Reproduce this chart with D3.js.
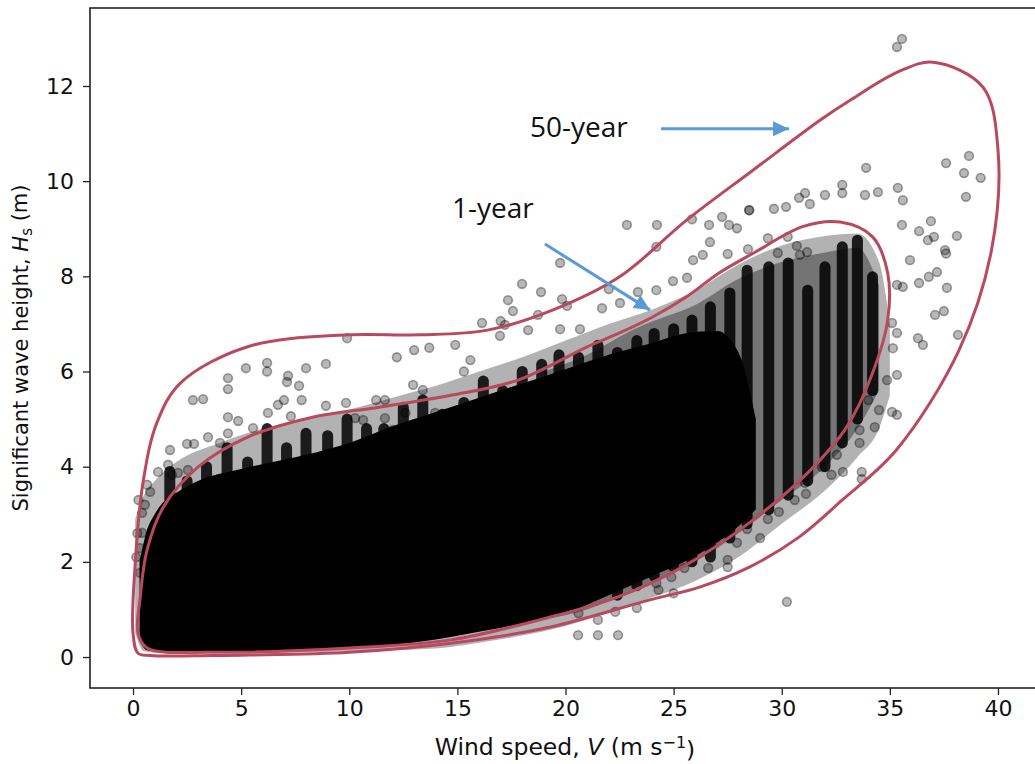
<!DOCTYPE html>
<html>
<head>
<meta charset="utf-8">
<script src="https://cdn.jsdelivr.net/npm/d3@7"></script>
<style>
  body { margin: 0; background: #fff; }
  svg text { font-family: "DejaVu Sans", sans-serif; fill: #111; }
</style>
</head>
<body>
<svg width="1035" height="764"></svg>
<script>

// Tick waarden van de assen
var xTicks = [0, 5, 10, 15, 20, 25, 30, 35, 40];
var yTicks = [0, 2, 4, 6, 8, 10, 12];

// 50-jaar contour (V, Hs)
var c50V = [0.23, 0.8, 3.7, 5.4, 10.0, 14.7, 19.3, 23.9, 26.2, 28.5, 30.8, 32.8, 35.3, 38.2, 39.7, 40.0, 39.3, 37.0, 35.4, 33.2, 31.8, 28.7, 25.6, 22.5, 19.4, 16.4, 13.3, 9.9, 5.3, 2.2, 1.1, 0.46, 0.09, 0.0];
var c50H = [0.08, 0.03, 0.03, 0.04, 0.1, 0.29, 0.63, 1.2, 1.47, 1.89, 2.52, 3.3, 4.35, 6.45, 8.55, 10.66, 11.98, 12.5, 12.3, 11.71, 11.29, 10.24, 9.18, 7.99, 7.29, 6.87, 6.77, 6.77, 6.52, 5.76, 4.92, 3.66, 1.89, 0.5];

// 1-jaar contour (V, Hs)
var c1V = [0.65, 3.7, 10.0, 14.7, 19.3, 22.4, 25.4, 28.5, 31.2, 33.0, 34.2, 34.9, 34.9, 34.2, 32.7, 31.0, 28.7, 27.1, 25.6, 24.05, 22.5, 21.0, 17.8, 14.7, 11.4, 8.3, 5.3, 3.0, 1.4, 0.65, 0.32, 0.23];
var c1H = [0.19, 0.1, 0.19, 0.36, 0.84, 1.26, 1.89, 2.82, 3.87, 4.83, 5.97, 7.08, 8.07, 8.83, 9.14, 9.05, 8.49, 8.07, 7.57, 7.15, 6.81, 6.52, 5.82, 5.5, 5.25, 5.04, 4.62, 3.99, 3.15, 2.25, 1.2, 0.5];

// Dichte kern van de puntenwolk (volledig zwart)
var coreV      = [0.3, 0.6, 1.0, 1.5, 2, 3, 5, 8, 10, 12, 14, 16, 18, 20, 22, 24, 25.5, 27, 28.0, 28.8];
var coreTop    = [2.0, 2.6, 3.0, 3.3, 3.45, 3.7, 3.95, 4.25, 4.5, 4.85, 5.15, 5.45, 5.75, 6.05, 6.35, 6.6, 6.8, 6.85, 6.4, 5.0];
var coreBottom = [0.35, 0.15, 0.12, 0.12, 0.12, 0.12, 0.12, 0.14, 0.19, 0.26, 0.37, 0.53, 0.7, 0.92, 1.3, 1.7, 2.0, 2.4, 2.75, 3.1];

// Grijze rand rond de kern (overlappende punten)
var haloV      = [0.1, 0.5, 1, 2, 4, 6, 8, 10, 12, 14, 16, 18, 20, 22, 24, 26, 28, 30, 32, 33.5, 34.5, 35];
var haloTop    = [2.9, 3.4, 3.7, 4.1, 4.5, 4.8, 5.0, 5.2, 5.45, 5.7, 6.0, 6.3, 6.65, 7.0, 7.3, 7.7, 8.25, 8.65, 8.85, 8.9, 8.3, 7.0];
var haloBottom = [0.5, 0.12, 0.09, 0.09, 0.09, 0.09, 0.1, 0.12, 0.15, 0.18, 0.3, 0.45, 0.65, 0.95, 1.25, 1.6, 2.1, 2.8, 3.5, 4.2, 4.8, 5.5];

// Donker gebied tussen de strepen bij hoge windsnelheid
var denseV      = [19, 21, 23, 24, 26, 28, 30, 32, 33.5, 34.5];
var denseTop    = [6.0, 6.35, 6.85, 7.05, 7.4, 7.95, 8.3, 8.5, 8.6, 7.8];
var denseBottom = [0.8, 1.0, 1.4, 1.6, 2.0, 2.6, 3.3, 4.0, 4.8, 5.6];

// Verticale strepen (gestapelde punten per windsnelheid)
var colV    = [1.7, 2.5, 3.4, 4.35, 5.3, 6.2, 7.1, 8.0, 9.0, 9.9, 10.8, 11.6, 12.5, 13.4, 14.3, 15.3, 16.2, 17.1, 18.0, 18.9, 19.7, 20.6, 21.5, 22.4, 23.3, 24.1, 25.0, 25.85, 26.7, 27.6, 28.4, 29.4, 30.3, 31.2, 32.0, 32.8, 33.5, 34.2];
var colLow  = [2, 2, 2, 2, 2, 2, 2, 2, 2, 2, 2, 2, 2, 2, 2, 2, 2, 2, 2, 2, 2, 2, 2, 1.3, 1.5, 1.7, 1.9, 2.0, 2.1, 2.5, 2.8, 3.1, 3.4, 3.7, 4.0, 4.5, 5.0, 5.6];
var colHigh = [3.9, 3.7, 4.0, 4.4, 4.1, 4.8, 4.4, 4.7, 4.65, 5.0, 4.8, 4.8, 5.25, 5.4, 5.1, 5.35, 5.8, 5.6, 6.0, 6.15, 6.35, 6.3, 6.55, 6.4, 6.65, 6.8, 6.9, 7.08, 7.36, 7.65, 8.13, 8.2, 8.28, 7.71, 8.2, 8.62, 8.76, 7.99];

// Losse punten buiten de kern
var ptV = [35.56, 35.33, 33.9, 33.85, 34.45, 35.37, 37.6, 38.66, 38.43, 39.2, 38.52, 31.08, 32.0, 32.8, 32.8, 35.6, 29.64, 30.2, 28.5, 35.56,
  36.35, 36.9, 36.76, 37.04, 38.1, 37.55, 37.6, 35.93, 37.18, 36.8, 36.35, 37.64, 35.33, 35.6, 37.09, 37.5, 38.15, 36.3, 36.53, 35.1,
  35.33, 35.14, 35.33, 34.87, 35.1, 35.33, 34.3, 34.5, 34.0, 33.6, 33.6, 32.55, 32.3, 32.83, 33.7, 33.7, 31.86, 31.07, 31.12, 30.6,
  29.87, 29.36, 29.0, 28.4, 27.93, 27.5, 27.5, 26.6, 30.24, 20.58, 21.5, 22.43, 21.5, 20.6, 22.3, 23.3, 24.3, 24.9, 25.0, 24.2,
  25.5, 28.07, 28.4, 27.93, 28.4, 11.24, 11.65, 12.95, 13.4, 10.27, 10.64, 11.65, 12.0, 12.6, 13.97, 14.33, 9.9, 6.2, 6.2, 5.22,
  4.39, 4.39, 2.77, 3.24, 8.0, 8.92, 7.17, 7.12, 7.68, 6.98, 7.8, 6.7, 8.92, 9.85, 4.39, 4.39, 4.86, 5.55, 6.24, 7.3,
  3.47, 4.02, 2.5, 2.82, 1.71, 1.16, 0.65, 0.79, 1.62, 1.8, 2.08, 2.54, 0.42, 0.32, 0.42, 0.32, 22.84, 24.23, 24.2, 19.75,
  17.99, 17.34, 17.57, 18.87, 19.84, 20.07, 18.73, 16.14, 17.0, 16.97, 18.27, 19.75, 20.67, 21.69, 22.52, 22.0, 23.35, 24.2, 24.97, 25.62,
  25.85, 26.64, 27.24, 27.56, 27.93, 28.49, 30.8, 31.3, 26.68, 26.35, 25.9, 27.5, 28.44, 29.36, 29.82, 30.28, 30.7, 31.17, 30.84, 13.0,
  13.7, 14.9, 15.6, 17.2, 12.2, 15.3, 0.2, 0.25, 0.15, 0.55];
var ptH = [12.99, 12.82, 10.28, 9.71, 9.77, 9.86, 10.38, 10.53, 10.17, 10.07, 9.67, 9.75, 9.71, 9.92, 9.75, 9.6, 9.42, 9.46, 9.39, 9.08,
  8.95, 9.16, 8.76, 8.83, 8.85, 8.55, 8.48, 8.34, 8.09, 7.99, 7.86, 7.76, 7.82, 7.78, 7.19, 7.27, 6.77, 6.7, 6.56, 7.02,
  6.81, 6.49, 5.93, 5.82, 5.15, 5.09, 4.83, 5.19, 5.4, 4.77, 4.5, 4.25, 3.83, 3.89, 3.89, 3.74, 3.99, 3.66, 3.43, 3.3,
  3.05, 2.9, 2.5, 2.69, 2.4, 2.04, 1.89, 1.87, 1.16, 0.46, 0.46, 0.46, 0.78, 0.92, 0.95, 1.03, 1.41, 1.68, 1.34, 1.55,
  1.87, 3.19, 2.95, 3.93, 3.7, 5.4, 5.4, 5.72, 5.61, 5.02, 4.98, 5.02, 4.77, 5.13, 5.13, 5.02, 6.7, 6.18, 6.0, 6.07,
  5.86, 5.63, 5.4, 5.42, 6.07, 6.16, 5.91, 5.78, 5.7, 5.4, 5.4, 5.3, 5.28, 5.34, 5.04, 4.7, 4.96, 4.81, 5.13, 5.06,
  4.62, 4.5, 4.48, 4.48, 4.35, 3.89, 3.62, 3.47, 4.04, 3.83, 3.87, 3.93, 3.03, 2.29, 2.61, 1.77, 9.08, 9.08, 8.62, 8.28,
  7.84, 7.5, 7.27, 7.67, 7.52, 7.38, 7.19, 7.02, 7.06, 6.75, 6.87, 6.89, 6.89, 7.33, 7.44, 7.73, 7.67, 7.71, 7.9, 7.97,
  9.2, 9.08, 9.25, 9.08, 9.01, 9.39, 9.65, 9.52, 8.72, 8.45, 8.34, 8.47, 8.57, 8.8, 8.49, 8.83, 8.64, 8.51, 8.45, 6.45,
  6.5, 6.56, 6.24, 6.98, 6.3, 6.0, 2.6, 3.3, 2.1, 3.2];

// Annotaties: tekst en pijlen (in data coordinaten)
var labelText = ["50-year", "1-year"];
var labelV = [18.36, 14.75];
var labelH = [10.93, 9.23];
var arrowFromV = [24.42, 19.05], arrowFromH = [11.1, 8.68];
var arrowToV = [30.34, 23.91], arrowToH = [11.1, 7.29];

var svg = d3.select("svg"),
    margin = { top: 8, right: 0, bottom: 76, left: 90 },
    width = 951,
    height = 680;

var x = d3.scaleLinear().domain([-1.99, 41.99]).range([0, width]),
    y = d3.scaleLinear().domain([-0.651, 13.639]).range([height, 0]);

var g = svg.append("g")
    .attr("transform", "translate(" + margin.left + "," + margin.top + ")");

var plot = g.append("g");

// Hulpfunctie voor een gevuld gebied tussen onder- en bovengrens
function band(vs, lo, hi) {
  return d3.area()
    .x(function(i) { return x(vs[i]); })
    .y0(function(i) { return y(lo[i]); })
    .y1(function(i) { return y(hi[i]); })
    .curve(d3.curveMonotoneX)(d3.range(vs.length));
}

// grijze rand
plot.append("path")
    .attr("d", band(haloV, haloBottom, haloTop))
    .attr("fill", "#000")
    .attr("fill-opacity", 0.3);

plot.append("path")
    .attr("d", band(denseV, denseBottom, denseTop))
    .attr("fill", "#000")
    .attr("fill-opacity", 0.35);

// strepen
plot.selectAll(".col")
  .data(d3.range(colV.length))
  .enter().append("line")
    .attr("class", "col")
    .attr("x1", function(i) { return x(colV[i]); })
    .attr("x2", function(i) { return x(colV[i]); })
    .attr("y1", function(i) { return y(colLow[i]); })
    .attr("y2", function(i) { return y(colHigh[i]); })
    .attr("stroke", "#000")
    .attr("stroke-opacity", 0.85)
    .attr("stroke-width", 11)
    .attr("stroke-linecap", "round");

// kern
plot.append("path")
    .attr("d", band(coreV, coreBottom, coreTop))
    .attr("fill", "#000");

// losse punten
plot.selectAll(".dot")
  .data(d3.range(ptV.length))
  .enter().append("circle")
    .attr("class", "dot")
    .attr("cx", function(i) { return x(ptV[i]); })
    .attr("cy", function(i) { return y(ptH[i]); })
    .attr("r", 4.4)
    .attr("fill", "#000")
    .attr("fill-opacity", 0.28)
    .attr("stroke", "#000")
    .attr("stroke-opacity", 0.35)
    .attr("stroke-width", 1.6);

// contouren
var contour = d3.line()
    .x(function(d) { return x(d[0]); })
    .y(function(d) { return y(d[1]); })
    .curve(d3.curveCatmullRomClosed.alpha(0.5));

[[c50V, c50H], [c1V, c1H]].forEach(function(c) {
  g.append("path")
      .attr("d", contour(d3.zip(c[0], c[1])))
      .attr("fill", "none")
      .attr("stroke", "#b8495f")
      .attr("stroke-width", 3);
});

// assen
g.append("g")
    .attr("transform", "translate(0," + height + ")")
    .call(d3.axisBottom(x).tickValues(xTicks).tickSize(7).tickPadding(5).tickSizeOuter(0))
    .call(function(a) {
      a.select(".domain").remove();
      a.selectAll("line").attr("stroke", "#222").attr("stroke-width", 1.3);
      a.selectAll("text").style("font-size", "22px").attr("fill", "#222");
    });

g.append("g")
    .call(d3.axisLeft(y).tickValues(yTicks).tickSize(7).tickPadding(9).tickSizeOuter(0))
    .call(function(a) {
      a.select(".domain").remove();
      a.selectAll("line").attr("stroke", "#222").attr("stroke-width", 1.3);
      a.selectAll("text").style("font-size", "22px").attr("fill", "#222");
    });

// kader
g.append("rect")
    .attr("width", width)
    .attr("height", height)
    .attr("fill", "none")
    .attr("stroke", "#222")
    .attr("stroke-width", 1.6);

// as titels
var xl = svg.append("text")
    .attr("x", 565)
    .attr("y", 755)
    .attr("text-anchor", "middle")
    .style("font-size", "23.5px")
    .attr("fill", "#222");
xl.append("tspan").text("Wind speed, ");
xl.append("tspan").attr("font-style", "italic").text("V");
xl.append("tspan").text(" (m s");
xl.append("tspan").attr("dy", "-0.45em").style("font-size", "16px").text("\u22121");
xl.append("tspan").attr("dy", "0.45em").text(")");

var yl = svg.append("text")
    .attr("transform", "translate(28," + (margin.top + height / 2) + ") rotate(-90)")
    .attr("text-anchor", "middle")
    .style("font-size", "21px")
    .attr("fill", "#222");
yl.append("tspan").text("Significant wave height, ");
yl.append("tspan").attr("font-style", "italic").text("H");
yl.append("tspan").attr("dy", "0.25em").style("font-size", "15px").text("s");
yl.append("tspan").attr("dy", "-0.25em").text(" (m)");

// pijlen
svg.append("defs").append("marker")
    .attr("id", "head")
    .attr("markerUnits", "userSpaceOnUse")
    .attr("viewBox", "0 0 16 16")
    .attr("refX", 16).attr("refY", 8)
    .attr("markerWidth", 16).attr("markerHeight", 16)
    .attr("orient", "auto")
  .append("path")
    .attr("d", "M0,0.5L16,8L0,15.5Z")
    .attr("fill", "#5b9bd5");

g.selectAll(".arrow")
  .data(d3.range(arrowFromV.length))
  .enter().append("line")
    .attr("class", "arrow")
    .attr("x1", function(i) { return x(arrowFromV[i]); })
    .attr("y1", function(i) { return y(arrowFromH[i]); })
    .attr("x2", function(i) { return x(arrowToV[i]); })
    .attr("y2", function(i) { return y(arrowToH[i]); })
    .attr("stroke", "#5b9bd5")
    .attr("stroke-width", 3)
    .attr("marker-end", "url(#head)");

g.selectAll(".lab")
  .data(d3.range(labelText.length))
  .enter().append("text")
    .attr("class", "lab")
    .attr("x", function(i) { return x(labelV[i]); })
    .attr("y", function(i) { return y(labelH[i]); })
    .style("font-family", "'Open Sans', sans-serif")
    .style("font-size", "28px")
    .attr("fill", "#000")
    .text(function(i) { return labelText[i]; });

</script>
</body>
</html>
